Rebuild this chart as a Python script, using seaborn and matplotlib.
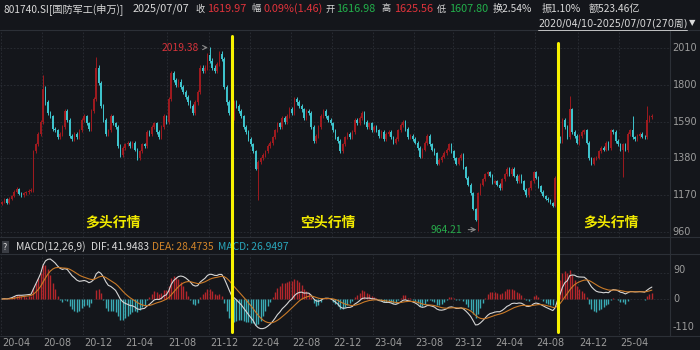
import numpy as np
import pandas as pd
import matplotlib
matplotlib.use("Agg")
import matplotlib.pyplot as plt
import matplotlib.transforms as mtransforms
from matplotlib.lines import Line2D
import seaborn as sns

# ---------------- data (weekly closes) ----------------
closes = [
    1130, 1145, 1125, 1150, 1165, 1190, 1205, 1178, 1168, 1180, 1185, 1195, 1200,
    1420, 1460, 1520, 1590, 1780, 1700, 1640, 1620, 1550,
    1540, 1500, 1520, 1560, 1650, 1600, 1510, 1490,
    1520, 1500, 1540, 1600, 1620, 1580, 1550, 1650, 1720, 1900,
    1810, 1680, 1600, 1520, 1540, 1620, 1580, 1560, 1450, 1400,
    1440, 1460, 1470, 1450, 1470, 1430, 1380, 1420, 1460, 1450,
    1530, 1520, 1560, 1580, 1530, 1500, 1560, 1620, 1590, 1720,
    1870, 1830, 1800, 1820, 1790, 1760, 1730, 1700, 1680, 1640,
    1700, 1760, 1900, 1880, 1900, 1970, 1940, 1900, 1880, 1920,
    1980, 1950, 1790, 1700, 1640, 1610, 1700, 1680, 1650, 1620,
    1560, 1530, 1490, 1460, 1420, 1320, 1360, 1380, 1400, 1420,
    1450, 1470, 1500, 1540, 1580, 1560, 1610, 1590, 1620, 1660,
    1640, 1720, 1700, 1680, 1660, 1610, 1650, 1640, 1560, 1480,
    1510, 1560, 1620, 1650, 1620, 1600, 1580, 1540, 1500, 1480,
    1420, 1460, 1500, 1520, 1500, 1530, 1600, 1580, 1610, 1640,
    1590, 1560, 1580, 1540, 1560, 1540, 1510, 1530, 1490, 1520,
    1530, 1500, 1470, 1490, 1540, 1570, 1590, 1550, 1500, 1510,
    1490, 1470, 1440, 1390, 1430, 1470, 1510, 1460, 1430, 1410,
    1350, 1370, 1390, 1410, 1430, 1460, 1420, 1380, 1350, 1380,
    1400, 1330, 1270, 1230, 1180, 1090, 1030, 1180, 1230, 1260,
    1290, 1300, 1280, 1240, 1250, 1230, 1210, 1260, 1290, 1320,
    1290, 1320, 1280, 1250, 1280, 1250, 1200, 1170, 1210, 1250,
    1300, 1270, 1220, 1190, 1165, 1150, 1140, 1125, 1110, 1270,
    1500, 1480, 1600, 1560, 1500, 1660, 1530, 1510, 1470, 1510,
    1530, 1540, 1470, 1380, 1350, 1380, 1385, 1420, 1440, 1430,
    1470, 1440, 1540, 1530, 1480, 1460, 1430, 1460, 1430, 1520,
    1540, 1500, 1490, 1510, 1520, 1505, 1500, 1600, 1616, 1619.97,
]
first_open = 1120
high_marks = {17: 1860, 39: 1960, 86: 2019.38, 235: 1740, 261: 1620, 267: 1680}
low_marks = {106: 1141, 197: 964.21, 257: 1274}

tick_idx = [0, 17, 34, 51, 69, 86, 103, 120, 137, 154, 171, 187, 204, 221, 239, 256]
tick_labels = ["20-04", "20-08", "20-12", "21-04", "21-08", "21-12", "22-04", "22-08",
               "22-12", "23-04", "23-08", "23-12", "24-04", "24-08", "24-12", "25-04"]
price_ticks = [2010, 1800, 1590, 1380, 1170, 960]
macd_ticks = [90, 0, -110]
regime_breaks = [95, 230]
phase_labels = ["多头行情", "空头行情", "多头行情"]
phase_pos = [46, 135, 252]

# ---------------- derived ----------------
c = np.array(closes, dtype=float)
o = np.concatenate([[first_open], c[:-1]])
n = len(c)
idx = np.arange(n)
hi = np.maximum(o, c) + 0.007 * c
lo = np.minimum(o, c) - 0.007 * c
for k, v in high_marks.items():
    hi[k] = v
for k, v in low_marks.items():
    lo[k] = v

s = pd.Series(c)
dif = s.ewm(span=12, adjust=False).mean() - s.ewm(span=26, adjust=False).mean()
dea = dif.ewm(span=9, adjust=False).mean()
hist = 2 * (dif - dea)
df = pd.DataFrame({"i": idx, "dif": dif, "dea": dea, "hist": hist})

# ---------------- style ----------------
sns.set_theme(style="dark")
plt.rcParams["font.family"] = ["Noto Sans CJK SC", "DejaVu Sans"]
NUMF = ["DejaVu Sans", "Noto Sans CJK SC"]
BG = "#14161b"
RED = "#9e1a1f"
TEAL = "#3ec3cc"
GRID = "#2b2f36"
AXC = "#9c9c9c"

W, H = 700, 350
fig = plt.figure(figsize=(7, 3.5), dpi=100, facecolor=BG)


def fx(x):
    return x / W


def fy(y):
    return 1 - y / H


XL = (-0.83, 276.5)
ax1 = fig.add_axes([0, fy(237), fx(670), (237 - 30) / H])
ax2 = fig.add_axes([0, fy(335), fx(670), (335 - 254) / H])
for ax in (ax1, ax2):
    ax.set_facecolor(BG)
    ax.set_xlim(*XL)
    ax.set_xticks([])
    ax.set_yticks([])
    for sp in ax.spines.values():
        sp.set_visible(False)
    for t in tick_idx:
        ax.axvline(t - 0.5, color=GRID, lw=0.6, ls=(0, (2, 2)), zorder=0)

# price panel
ax1.set_ylim(930, 2115)
for p in price_ticks:
    ax1.axhline(p, color=GRID, lw=0.6, ls=(0, (2, 2)), zorder=0)
cols = np.where(c >= o, RED, TEAL)
ax1.vlines(idx, lo, hi, colors=cols, lw=0.7, zorder=2)
body_lo = np.minimum(o, c)
body_h = np.maximum(np.abs(c - o), 2.0)
ax1.bar(idx, body_h, bottom=body_lo, width=0.65, color=cols, linewidth=0, zorder=3)

# MACD panel (0 at y=299, 0.29 px per unit)
ax2.set_ylim(-(335 - 299) / 0.29, (299 - 254) / 0.29)
for v in (90, 0):
    ax2.axhline(v, color=GRID, lw=0.6, ls=(0, (2, 2)), zorder=0)
hcols = np.where(df["hist"] >= 0, "#b3262b", "#3aaab3")
ax2.vlines(df["i"], 0, df["hist"], colors=hcols, lw=1.0, zorder=2)
sns.lineplot(data=df, x="i", y="dif", ax=ax2, color="#d6d6d6", lw=0.8, zorder=4)
sns.lineplot(data=df, x="i", y="dea", ax=ax2, color="#c97a28", lw=0.8, zorder=4)
ax2.set_xlabel("")
ax2.set_ylabel("")
ax2.set_xlim(*XL)

# separators / frame lines
for y in (30, 237, 254, 336):
    fig.add_artist(Line2D([0, 1], [fy(y), fy(y)], color="#2c3037", lw=0.8))
fig.add_artist(Line2D([fx(670), fx(670)], [fy(30), fy(336)], color="#2c3037", lw=0.8))

# right axis labels
for p in price_ticks:
    ax1.text(1.004, p, str(p), transform=ax1.get_yaxis_transform(), color=AXC,
             fontsize=7, va="center", ha="left", family=["DejaVu Sans"])
for v, ypx in zip(macd_ticks, (270, 299, 327)):
    fig.text(fx(673), fy(ypx), str(v), color=AXC, fontsize=7, va="center", ha="left",
             family=["DejaVu Sans"])

# date labels
bt2 = mtransforms.blended_transform_factory(ax2.transData, fig.transFigure)
for t, lab in zip(tick_idx, tick_labels):
    fig.text(0, fy(343), lab, transform=bt2, color=AXC, fontsize=7, va="center",
             ha="left", family=["DejaVu Sans"])
    fig.texts[-1].set_x(t)

# regime lines (yellow)
bt1 = mtransforms.blended_transform_factory(ax1.transData, fig.transFigure)
for b, ytop in zip(regime_breaks, (36, 43)):
    fig.add_artist(Line2D([b, b], [fy(ytop), fy(332)], transform=bt1,
                          color="#f7f200", lw=2.2, zorder=10))

# phase labels
for lab, pos in zip(phase_labels, phase_pos):
    fig.text(0, fy(223), lab, transform=bt1, color="#f2ea00", fontsize=10,
             fontweight="bold", ha="center", va="center")
    fig.texts[-1].set_x(pos)

# extreme annotations
ih = int(np.argmax(hi))
il = int(np.argmin(lo))
ax1.annotate(f"{hi[ih]:.2f}", xy=(ih + 0.4, hi[ih] - 5), xytext=(ih - 4.5, hi[ih] - 5),
             color="#d6333a", fontsize=7.4, ha="right", va="center",
             arrowprops=dict(arrowstyle="->", color="#8a8a8a", lw=0.8))
ax1.annotate(f"{lo[il]:.2f}", xy=(il + 0.5, lo[il] + 8), xytext=(il - 6.5, lo[il] + 8),
             color="#27a84a", fontsize=7.4, ha="right", va="center",
             arrowprops=dict(arrowstyle="->", color="#8a8a8a", lw=0.8))

# header
hdr = [
    (3, "801740.SI[国防军工(申万)]", "#d9d9d9", 7.3),
    (133, "2025/07/07", "#d9d9d9", 7.8),
    (195, "收", "#d9d9d9", 6.6), (207, "1619.97", "#e0333b", 7.8),
    (251, "幅", "#d9d9d9", 6.6), (263, "0.09%(1.46)", "#e0333b", 7.8),
    (325, "开", "#d9d9d9", 6.6), (336, "1616.98", "#22b04b", 7.8),
    (382, "高", "#d9d9d9", 6.6), (394, "1625.56", "#e0333b", 7.8),
    (437, "低", "#d9d9d9", 6.6), (449, "1607.80", "#22b04b", 7.8),
    (493, "换2.54%", "#d9d9d9", 7.3),
    (542, "振1.10%", "#d9d9d9", 7.3),
    (589, "额523.46亿", "#d9d9d9", 7.3),
]
for x, t, col, fs in hdr:
    fig.text(fx(x), fy(9), t, color=col, fontsize=fs, ha="left", va="center")
fig.text(fx(538), fy(23), "2020/04/10-2025/07/07(270周)", color="#d9d9d9",
         fontsize=6.9, ha="left", va="center", family=NUMF)
fig.add_artist(Line2D([fx(538), fx(687)], [fy(30), fy(30)], color="#d9d9d9", lw=0.6))
fig.text(fx(689), fy(23), "▼", color="#d9d9d9", fontsize=6, ha="left", va="center",
         family=["DejaVu Sans"])

# MACD header
fig.text(fx(3), fy(247), "?", color="#d9d9d9", fontsize=6.5, ha="left", va="center",
         bbox=dict(boxstyle="square,pad=0.15", fc="#3a3d44", ec="none"))
mh = [(16, "MACD(12,26,9)", "#d9d9d9"), (91, "DIF: 41.9483", "#d9d9d9"),
      (152, "DEA: 28.4735", "#d0842a"), (218, "MACD: 26.9497", "#2aa6bb")]
for x, t, col in mh:
    fig.text(fx(x), fy(247), t, color=col, fontsize=7.4, ha="left", va="center")

fig.savefig("out.png", dpi=100, facecolor=BG)
